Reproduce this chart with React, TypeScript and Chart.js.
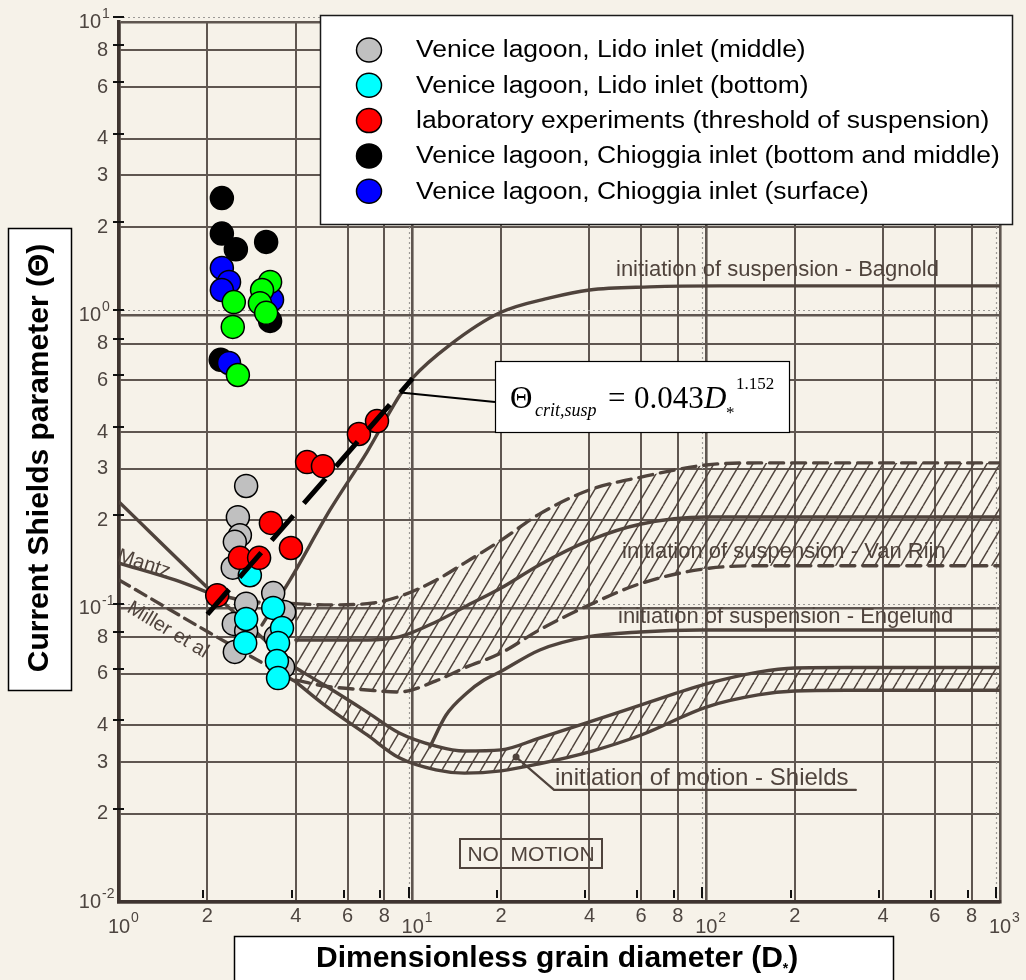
import React, { useEffect, useRef } from "react";
import { Chart, registerables } from "chart.js";

Chart.register(...registerables);

// ---------------- axis grid / tick values ----------------
const xGridValues = [1, 2, 4, 6, 8, 10, 20, 40, 60, 80, 100, 200, 400, 600, 800, 1000];
const yGridValues = [0.01, 0.02, 0.03, 0.04, 0.06, 0.08, 0.1, 0.2, 0.3, 0.4, 0.6, 0.8, 1, 2, 3, 4, 6, 8, 10];
const xTickLabelValues = [1, 2, 4, 6, 8, 10, 20, 40, 60, 80, 100, 200, 400, 600, 800, 1000];
const yTickLabelValues = [0.01, 0.02, 0.03, 0.04, 0.06, 0.08, 0.1, 0.2, 0.3, 0.4, 0.6, 0.8, 1, 2, 3, 4, 6, 8, 10];
const xTickMarkValues = [2, 4, 6, 8, 10, 20, 40, 60, 80, 100, 200, 400, 600, 800, 1000];
const yTickMarkValues = [0.02, 0.04, 0.06, 0.08, 0.1, 0.2, 0.4, 0.6, 0.8, 1, 2, 4, 6, 8, 10];
const overlayDecadesX = [10, 100, 1000];
const overlayDecadesY = [0.1, 1, 10];

// ---------------- measured points ----------------
const grayD = [2.71, 2.54, 2.58, 2.48, 2.44, 2.71, 2.46, 2.71, 2.48, 3.35, 3.65, 3.42, 3.62];
const grayTheta = [0.262, 0.205, 0.178, 0.169, 0.138, 0.104, 0.0887, 0.0839, 0.0712, 0.113, 0.0974, 0.0801, 0.0633];
const cyanD = [2.79, 2.71, 2.69, 3.35, 3.59, 3.48, 3.45, 3.48];
const cyanTheta = [0.13, 0.0922, 0.0764, 0.1006, 0.0859, 0.0764, 0.0663, 0.058];
const redD = [2.16, 2.58, 3.0, 3.29, 3.85, 4.37, 4.95, 6.56, 7.56];
const redTheta = [0.111, 0.149, 0.149, 0.196, 0.161, 0.316, 0.306, 0.394, 0.436];
const blackD = [2.24, 2.24, 2.5, 3.17, 3.27, 2.22];
const blackTheta = [2.51, 1.9, 1.68, 1.78, 0.957, 0.705];
const blueD = [2.24, 2.37, 2.24, 3.32, 2.37];
const blueTheta = [1.45, 1.3, 1.22, 1.13, 0.688];
const greenD = [2.46, 2.44, 3.27, 3.07, 3.02, 3.17, 2.54];
const greenTheta = [1.11, 0.913, 1.3, 1.22, 1.1, 1.02, 0.626];

// fitted threshold line  Θ = 0.043 D*^1.152  (end points)
const fitD = [2, 10];
const fitTheta = [0.0956, 0.61];

// ---------------- curves of the scanned diagram ----------------
const bagnoldD = [3.07, 3.82, 5.23, 6.99, 9.05, 10.0, 13.4, 19.8, 29.3, 40, 64, 111, 1000];
const bagnoldTheta = [0.088, 0.125, 0.217, 0.342, 0.535, 0.612, 0.793, 1.02, 1.146, 1.22, 1.25, 1.26, 1.26];

const vanRijnD = [4, 5, 7, 9, 12, 15, 20, 27, 40, 60, 100, 150, 1000];
const vanRijnUpper = [0.104, 0.103, 0.104, 0.11, 0.125, 0.143, 0.171, 0.21, 0.254, 0.281, 0.309, 0.314, 0.314];
const vanRijnLower = [0.0571, 0.0545, 0.0528, 0.052, 0.0567, 0.0628, 0.0706, 0.0846, 0.103, 0.122, 0.137, 0.14, 0.14];
const vanRijnMiddle = [0.0782, 0.0782, 0.0782, 0.0801, 0.0901, 0.1013, 0.1176, 0.141, 0.171, 0.1944, 0.2054, 0.2054, 0.2054];

const engelundD = [11.45, 13, 15.3, 17.5, 19.8, 27.1, 39.2, 59.4, 95, 1000];
const engelundTheta = [0.0338, 0.0434, 0.0516, 0.0571, 0.0608, 0.0723, 0.0801, 0.0833, 0.0846, 0.0846];

const shieldsD = [4, 5, 7, 9, 12, 15, 20, 27, 40, 60, 100, 150, 200, 300, 1000];
const shieldsUpper = [0.0628, 0.0549, 0.0444, 0.0377, 0.034, 0.0327, 0.033, 0.0362, 0.0411, 0.047, 0.0554, 0.0608, 0.0628, 0.063, 0.063];
const shieldsLower = [0.0563, 0.047, 0.0371, 0.031, 0.0282, 0.0275, 0.028, 0.0296, 0.0325, 0.0371, 0.0462, 0.0508, 0.0524, 0.0527, 0.0527];

const leftLineD = [1, 2.04, 4];
const leftLineTheta = [0.231, 0.1158, 0.0628];
const millerD = [1, 2.04, 4];
const millerTheta = [0.1253, 0.0826, 0.0563];
const mantzSolidD = [1, 1.55, 2.04];
const mantzSolidTheta = [0.143, 0.1253, 0.113];
const mantzDashD = [2.04, 2.79, 4];
const mantzDashTheta = [0.113, 0.106, 0.104];

const leaderD = [22.5, 30.3, 323];
const leaderTheta = [0.0312, 0.0241, 0.0241];

// ---------------- legend ----------------
const legendLabels = [
  "Venice lagoon, Lido inlet (middle)",
  "Venice lagoon, Lido inlet (bottom)",
  "laboratory experiments (threshold of suspension)",
  "Venice lagoon, Chioggia inlet (bottom and middle)",
  "Venice lagoon, Chioggia inlet (surface)",
];
const legendColors = ["#c0c0c0", "#00ffff", "#ff0000", "#000000", "#0000ff"];

// ---------------- styles ----------------
const BG = "#f6f2e9";
const INK = "#4f433c";
const GRID = "#5f5650";
const AXIS = "#3e3430";
const LABEL = "#4d4540";
const SANS = '"Liberation Sans", Arial, sans-serif';
const SERIF = '"Liberation Serif", "Times New Roman", serif';

function pts(xs: number[], ys: number[]) {
  return xs.map((x, i) => ({ x, y: ys[i] }));
}

function isDecade(v: number) {
  const l = Math.log10(v);
  return Math.abs(l - Math.round(l)) < 1e-6;
}

const scanPlugin = {
  id: "scanDecor",
  beforeDraw(chart: any) {
    const ctx = chart.ctx;
    ctx.save();
    ctx.fillStyle = BG;
    ctx.fillRect(0, 0, chart.width, chart.height);
    ctx.restore();
  },
  beforeDatasetsDraw(chart: any) {
    const ctx = chart.ctx;
    const xs = chart.scales.x;
    const ys = chart.scales.y;
    const area = chart.chartArea;
    ctx.save();
    // dotted overlay decade lines
    ctx.strokeStyle = "#9c9a96";
    ctx.lineWidth = 1.2;
    ctx.setLineDash([2, 3]);
    overlayDecadesY.forEach((v) => {
      const y = Math.round(ys.getPixelForValue(v) - 5) + 0.5;
      ctx.beginPath();
      ctx.moveTo(area.left - 6, y);
      ctx.lineTo(area.right, y);
      ctx.stroke();
    });
    overlayDecadesX.forEach((v) => {
      const x = Math.round(xs.getPixelForValue(v) - 4) + 0.5;
      ctx.beginPath();
      ctx.moveTo(x, area.top);
      ctx.lineTo(x, area.bottom);
      ctx.stroke();
    });
    ctx.setLineDash([]);
    // rotated labels of the left-hand curves
    ctx.fillStyle = INK;
    ctx.font = `20px ${SANS}`;
    ctx.textBaseline = "top";
    ctx.textAlign = "left";
    ctx.save();
    ctx.translate(121, 546);
    ctx.rotate((18 * Math.PI) / 180);
    ctx.fillText("Mantz", 0, 0);
    ctx.restore();
    ctx.save();
    ctx.translate(134, 598);
    ctx.rotate((31 * Math.PI) / 180);
    ctx.fillText("Miller et al", 0, 0);
    ctx.restore();
    ctx.restore();
  },
  afterDatasetsDraw(chart: any) {
    const ctx = chart.ctx;
    ctx.save();
    ctx.fillStyle = INK;
    ctx.textBaseline = "middle";
    ctx.textAlign = "left";
    ctx.font = `22px ${SANS}`;
    ctx.fillText("initiation of suspension - Bagnold", 616, 270);
    ctx.fillText("initiation of suspension - Van Rijn", 622, 552);
    ctx.fillText("initiation of suspension - Engelund", 618, 617);
    ctx.font = `24px ${SANS}`;
    ctx.fillText("initiation of motion - Shields", 555, 778);
    // NO MOTION box
    ctx.strokeStyle = INK;
    ctx.lineWidth = 2;
    ctx.strokeRect(460, 839, 142, 29);
    ctx.font = `21px ${SANS}`;
    ctx.textAlign = "center";
    ctx.fillText("NO  MOTION", 531, 855);
    ctx.restore();
  },
  afterDraw(chart: any) {
    const ctx = chart.ctx;
    const xs = chart.scales.x;
    const ys = chart.scales.y;
    const area = chart.chartArea;
    ctx.save();

    // ---- tick labels (from the scanned figure)
    ctx.fillStyle = LABEL;
    yTickLabelValues.forEach((v) => {
      const y = ys.getPixelForValue(v);
      if (isDecade(v)) {
        const e = Math.round(Math.log10(v));
        ctx.font = `20px ${SANS}`;
        ctx.textAlign = "right";
        ctx.textBaseline = "middle";
        ctx.fillText("10", 101, y);
        ctx.font = `14px ${SANS}`;
        ctx.textAlign = "left";
        ctx.fillText(String(e), 102, y - 8);
      } else {
        const d = Math.round(v / Math.pow(10, Math.floor(Math.log10(v) + 1e-9)));
        ctx.font = `20px ${SANS}`;
        ctx.textAlign = "right";
        ctx.textBaseline = "middle";
        ctx.fillText(String(d), 108, y);
      }
    });
    xTickLabelValues.forEach((v) => {
      const x = xs.getPixelForValue(v);
      if (isDecade(v)) {
        const e = Math.round(Math.log10(v));
        ctx.font = `20px ${SANS}`;
        ctx.textAlign = "center";
        ctx.textBaseline = "middle";
        ctx.fillText("10", x, 927);
        ctx.font = `14px ${SANS}`;
        ctx.textAlign = "left";
        ctx.fillText(String(e), x + 12, 918);
      } else {
        const d = Math.round(v / Math.pow(10, Math.floor(Math.log10(v) + 1e-9)));
        ctx.font = `20px ${SANS}`;
        ctx.textAlign = "center";
        ctx.textBaseline = "middle";
        ctx.fillText(String(d), x, 916);
      }
    });

    // ---- overlay tick marks
    ctx.strokeStyle = "#111";
    ctx.lineWidth = 2;
    yTickMarkValues.forEach((v) => {
      const y = Math.round(ys.getPixelForValue(v) - 5);
      ctx.beginPath();
      ctx.moveTo(area.left - 6, y);
      ctx.lineTo(area.left + 5, y);
      ctx.stroke();
    });
    xTickMarkValues.forEach((v) => {
      const x = Math.round(xs.getPixelForValue(v) - 4);
      ctx.beginPath();
      ctx.moveTo(x, isDecade(v) ? area.bottom - 15 : area.bottom - 12);
      ctx.lineTo(x, area.bottom - 4);
      ctx.stroke();
    });

    // ---- legend
    ctx.fillStyle = "#ffffff";
    ctx.fillRect(320, 15, 692, 209);
    ctx.strokeStyle = "#1a1a1a";
    ctx.lineWidth = 1.5;
    ctx.strokeRect(320.5, 15.5, 692, 209);
    legendLabels.forEach((t, i) => {
      const cy = 50 + i * 35.3;
      ctx.beginPath();
      ctx.ellipse(369, cy, 12.5, 12, 0, 0, Math.PI * 2);
      ctx.fillStyle = legendColors[i];
      ctx.fill();
      ctx.strokeStyle = "#000";
      ctx.lineWidth = 1.5;
      ctx.stroke();
      ctx.save();
      ctx.translate(416, cy + 1);
      ctx.scale(1.15, 1);
      ctx.fillStyle = "#000";
      ctx.font = `23px ${SANS}`;
      ctx.textAlign = "left";
      ctx.textBaseline = "middle";
      ctx.fillText(t, 0, 0);
      ctx.restore();
    });

    // ---- equation callout
    const p0x = xs.getPixelForValue(fitD[0]);
    const p0y = ys.getPixelForValue(fitTheta[0]);
    const p1x = xs.getPixelForValue(fitD[1]);
    const p1y = ys.getPixelForValue(fitTheta[1]);
    const sx = p0x + 0.94 * (p1x - p0x);
    const sy = p0y + 0.94 * (p1y - p0y);
    ctx.strokeStyle = "#000";
    ctx.lineWidth = 2;
    ctx.beginPath();
    ctx.moveTo(sx, sy);
    ctx.lineTo(495, 402);
    ctx.stroke();
    ctx.fillStyle = "#ffffff";
    ctx.fillRect(495, 361, 294, 71);
    ctx.lineWidth = 1.2;
    ctx.strokeStyle = "#000";
    ctx.strokeRect(495.5, 361.5, 294, 71);
    ctx.fillStyle = "#000";
    ctx.textAlign = "left";
    ctx.textBaseline = "alphabetic";
    ctx.font = `31px ${SERIF}`;
    ctx.fillText("\u0398", 510, 408);
    ctx.font = `italic 18px ${SERIF}`;
    ctx.fillText("crit,susp", 535, 416);
    ctx.font = `31px ${SERIF}`;
    ctx.fillText("=", 608, 408);
    ctx.fillText("0.043", 634, 408);
    ctx.font = `italic 31px ${SERIF}`;
    ctx.fillText("D", 704, 408);
    ctx.font = `17px ${SERIF}`;
    ctx.fillText("*", 726, 418);
    ctx.fillText("1.152", 736, 389);

    // ---- y axis title
    ctx.fillStyle = "#ffffff";
    ctx.fillRect(8, 228, 63, 462);
    ctx.strokeStyle = "#000";
    ctx.lineWidth = 1.5;
    ctx.strokeRect(8.5, 228.5, 63, 462);
    ctx.save();
    ctx.translate(40, 458);
    ctx.rotate(-Math.PI / 2);
    ctx.fillStyle = "#000";
    ctx.font = `bold 30px ${SANS}`;
    ctx.textAlign = "center";
    ctx.textBaseline = "middle";
    ctx.fillText("Current Shields parameter (\u0398)", 0, 0);
    ctx.restore();

    // ---- x axis title
    ctx.fillStyle = "#ffffff";
    ctx.fillRect(234, 936, 659, 60);
    ctx.strokeStyle = "#000";
    ctx.lineWidth = 1.5;
    ctx.strokeRect(234.5, 936.5, 659, 60);
    ctx.fillStyle = "#000";
    ctx.textAlign = "left";
    ctx.textBaseline = "alphabetic";
    ctx.font = `bold 30px ${SANS}`;
    const main = "Dimensionless grain diameter (D";
    ctx.fillText(main, 316, 967);
    let cx = 316 + ctx.measureText(main).width;
    ctx.font = `bold 14px ${SANS}`;
    ctx.fillText("*", cx, 973);
    cx += ctx.measureText("*").width;
    ctx.font = `bold 30px ${SANS}`;
    ctx.fillText(")", cx, 967);

    ctx.restore();
  },
};

export default function App() {
  const ref = useRef<HTMLCanvasElement | null>(null);

  useEffect(() => {
    const canvas = ref.current;
    if (!canvas) return;
    const ctx0 = canvas.getContext("2d") as CanvasRenderingContext2D;

    const pc = document.createElement("canvas");
    pc.width = 13;
    pc.height = 22;
    const pctx = pc.getContext("2d") as CanvasRenderingContext2D;
    pctx.strokeStyle = INK;
    pctx.lineWidth = 1.4;
    [-13, 0, 13].forEach((o) => {
      pctx.beginPath();
      pctx.moveTo(o, 22);
      pctx.lineTo(o + 13, 0);
      pctx.stroke();
    });
    const hatch = ctx0.createPattern(pc, "repeat") as CanvasPattern;

    const pointSet = (label: string, xs: number[], ysv: number[], color: string, order: number) => ({
      label,
      data: pts(xs, ysv),
      showLine: false,
      order,
      backgroundColor: color,
      borderColor: "#000",
      pointBackgroundColor: color,
      pointBorderColor: "#000",
      pointBorderWidth: 1.5,
      pointRadius: 11.5,
      pointHoverRadius: 11.5,
    });
    const curve = (label: string, xs: number[], ysv: number[], extra: any = {}) => ({
      label,
      data: pts(xs, ysv),
      showLine: true,
      order: 20,
      pointRadius: 0,
      pointHoverRadius: 0,
      borderColor: INK,
      borderWidth: 3.4,
      backgroundColor: "transparent",
      fill: false,
      cubicInterpolationMode: "monotone",
      borderCapStyle: "round",
      borderJoinStyle: "round",
      ...extra,
    });

    const datasets: any[] = [
      pointSet("Venice lagoon, Lido inlet (middle)", grayD, grayTheta, "#c0c0c0", 6), // 0
      pointSet("Venice lagoon, Lido inlet (bottom)", cyanD, cyanTheta, "#00ffff", 5), // 1
      pointSet("laboratory experiments", redD, redTheta, "#ff0000", 4), // 2
      pointSet("Chioggia (bottom and middle)", blackD, blackTheta, "#000000", 3), // 3
      pointSet("Chioggia (surface)", blueD, blueTheta, "#0000ff", 2), // 4
      pointSet("other", greenD, greenTheta, "#00ff00", 1), // 5
      {
        label: "fit",
        data: pts(fitD, fitTheta),
        showLine: true,
        order: 0,
        pointRadius: 0,
        borderColor: "#000",
        borderWidth: 5,
        borderDash: [33, 16],
        tension: 0,
        fill: false,
      }, // 6
      curve("Bagnold", bagnoldD, bagnoldTheta), // 7
      curve("Van Rijn upper", vanRijnD, vanRijnUpper, { borderDash: [14, 8], fill: 9, backgroundColor: hatch }), // 8
      curve("Van Rijn lower", vanRijnD, vanRijnLower, { borderDash: [14, 8] }), // 9
      curve("Van Rijn middle", vanRijnD, vanRijnMiddle), // 10
      curve("Engelund", engelundD, engelundTheta), // 11
      curve("Shields upper", shieldsD, shieldsUpper, { fill: 13, backgroundColor: hatch }), // 12
      curve("Shields lower", shieldsD, shieldsLower), // 13
      curve("left line", leftLineD, leftLineTheta), // 14
      curve("Miller et al", millerD, millerTheta, { borderDash: [12, 7] }), // 15
      curve("Mantz", mantzSolidD, mantzSolidTheta), // 16
      curve("Mantz dashed", mantzDashD, mantzDashTheta, { borderDash: [12, 7] }), // 17
      curve("Shields leader", leaderD, leaderTheta, {
        borderWidth: 2.2,
        cubicInterpolationMode: "default",
        tension: 0,
        pointRadius: [3.5, 0, 0],
        pointBackgroundColor: INK,
        pointBorderWidth: 0,
      }), // 18
    ];

    const chart = new Chart(canvas, {
      type: "scatter",
      data: { datasets },
      options: {
        responsive: false,
        animation: false,
        events: [],
        layout: { padding: { left: 119, top: 22, right: 26, bottom: 78 } },
        plugins: {
          legend: { display: false },
          tooltip: { enabled: false },
        },
        scales: {
          x: {
            type: "logarithmic",
            position: "bottom",
            min: 1,
            max: 1000,
            afterBuildTicks: (s: any) => {
              s.ticks = xGridValues.map((v) => ({ value: v }));
            },
            afterFit: (s: any) => {
              s.height = 0;
            },
            ticks: { display: false },
            title: { display: false },
            grid: {
              color: GRID,
              lineWidth: (c: any) => (c.tick && isDecade(c.tick.value) ? 2.6 : 2),
              drawTicks: false,
            },
            border: { display: true, color: AXIS, width: 3.5 },
          },
          y: {
            type: "logarithmic",
            position: "left",
            min: 0.01,
            max: 10,
            afterBuildTicks: (s: any) => {
              s.ticks = yGridValues.map((v) => ({ value: v }));
            },
            afterFit: (s: any) => {
              s.width = 0;
            },
            ticks: { display: false },
            title: { display: false },
            grid: {
              color: GRID,
              lineWidth: (c: any) => (c.tick && isDecade(c.tick.value) ? 2.6 : 2),
              drawTicks: false,
            },
            border: { display: true, color: AXIS, width: 3.5 },
          },
        },
      } as any,
      plugins: [scanPlugin as any],
    });

    return () => {
      chart.destroy();
    };
  }, []);

  return (
    <div style={{ position: "fixed", left: 0, top: 0, width: 1026, height: 980, background: BG }}>
      <canvas ref={ref} width={1026} height={980} style={{ display: "block", width: 1026, height: 980 }} />
    </div>
  );
}
